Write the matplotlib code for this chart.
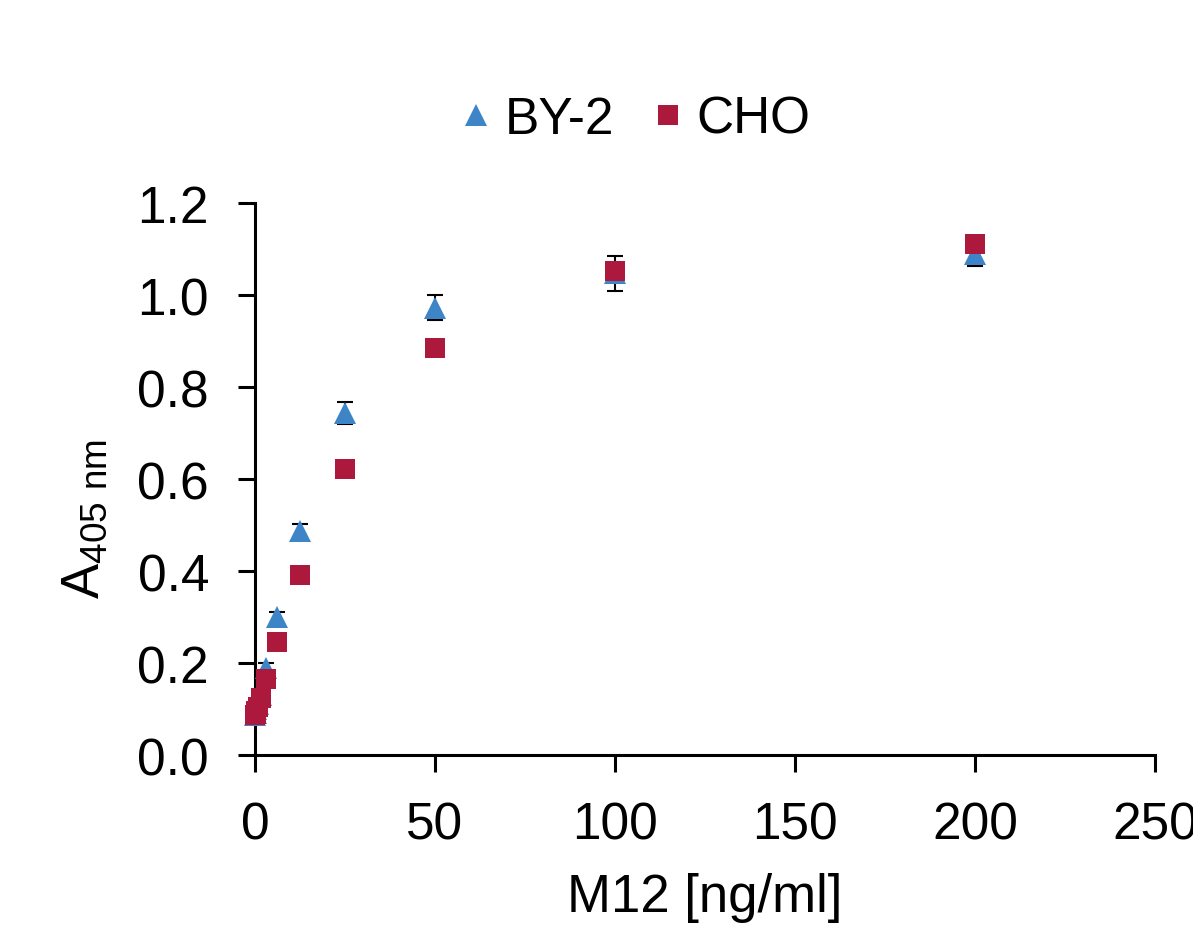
import numpy as np
import matplotlib
matplotlib.use('Agg')
import matplotlib.pyplot as plt

plt.rcParams['font.family'] = ['Liberation Sans', 'DejaVu Sans']
plt.rcParams['mathtext.fontset'] = 'custom'
plt.rcParams['mathtext.rm'] = 'Liberation Sans'

# M12 concentration (serial dilution)
conc = [200, 100, 50, 25, 12.5, 6.25, 3.125, 1.5625, 0.78, 0.39, 0.195, 0]

by2 = [1.09, 1.048, 0.973, 0.743, 0.487, 0.300, 0.190, 0.130, 0.110, 0.100, 0.092, 0.088]
by2_err = [0.026, 0.038, 0.027, 0.024, 0.015, 0.012, 0.010, 0.008, 0.006, 0.005, 0.004, 0.004]

cho = [1.111, 1.052, 0.886, 0.622, 0.391, 0.246, 0.166, 0.125, 0.105, 0.095, 0.090, 0.086]

blue = '#3D85C6'
red = '#AD193C'

fig = plt.figure(figsize=(11.93, 9.28), dpi=100)
ax = fig.add_axes([0.2137, 0.1853, 0.7545, 0.5947])

ax.errorbar(conc, by2, yerr=by2_err, fmt='none', ecolor='black', elinewidth=1.5,
            capsize=6, capthick=1.5, zorder=2)
ax.plot(conc, by2, '^', color=blue, markersize=16, markeredgewidth=0, label='BY-2', zorder=3)
ax.plot(conc, cho, 's', color=red, markersize=15, markeredgewidth=0, label='CHO', zorder=4)

ax.set_xlim(0, 250)
ax.set_ylim(0, 1.2)
ax.set_xticks(np.arange(0, 251, 50))
ax.set_yticks(np.arange(0, 1.21, 0.2))
ax.set_yticklabels(['%.1f' % v for v in np.arange(0, 1.21, 0.2)])

for s in ['top', 'right']:
    ax.spines[s].set_visible(False)
for s in ['left', 'bottom']:
    ax.spines[s].set_linewidth(2.2)
ax.tick_params(axis='both', direction='out', length=12, width=2.2, labelsize=37)
ax.tick_params(axis='y', pad=21)
ax.tick_params(axis='x', pad=21)

ax.set_xlabel('M12 [ng/ml]', fontsize=38)
ax.xaxis.set_label_coords(0.5, -0.212)
ax.set_ylabel(r'$\mathregular{A_{405\ nm}}$', fontsize=38)
ax.yaxis.set_label_coords(-0.161, 0.43)

leg = ax.legend(loc='center', bbox_to_anchor=(0.423, 1.152), ncol=2, frameon=False,
                fontsize=37, handletextpad=0.25, columnspacing=0.75,
                handlelength=0.6, borderpad=0, borderaxespad=0)

for line in ax.lines:
    line.set_clip_on(False)

fig.savefig('out.png', dpi=100)
